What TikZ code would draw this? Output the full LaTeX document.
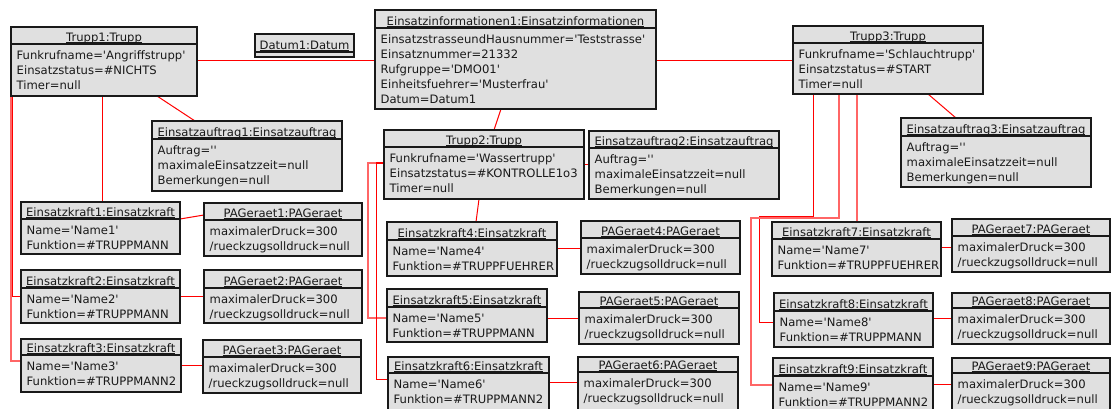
\documentclass[tikz,border=0pt]{standalone}
\usepackage{fontspec}
\newfontfamily\umlfont{DejaVu Sans}
\usetikzlibrary{calc}
\pgfdeclarelayer{background}
\pgfsetlayers{background,main}
\definecolor{boxfill}{HTML}{E0E0E0}
\newcommand\ulx[1]{\setbox0\hbox{#1}\rlap{\rule[-1.6pt]{\wd0}{0.8pt}}\box0}
\tikzset{
  objbox/.style={draw=black!90, fill=boxfill, line width=1.1pt, inner sep=0pt, outer sep=0pt, rectangle},
  objsep/.style={draw=black!90, line width=1.1pt},
  objtext/.style={font=\umlfont\fontsize{11.6}{15}\selectfont, inner sep=0pt, text=black!90},
  link/.style={draw=red, line width=1pt},
  linklight/.style={draw=red!60, line width=1.1pt},
}
% name, x1, y1, x2, y2, yh, title, attribute list
\newcommand\umlobj[8]{%
  \node[objbox, minimum width={#4-#2}, minimum height={#5-#3}] (#1) at ({(#2+#4)/2},{(#3+#5)/2}) {};
  \draw[objsep] (#2,#6) -- (#4,#6);
  \node[objtext, anchor=base] (#1-title) at ({(#2+#4)/2},#6-2.8) {\ulx{#7}};
  \foreach \l [count=\i from 0] in {#8} {
    \node[objtext, anchor=base west] at (#2+5.5,#6+15.5+15*\i) {\l};
  }%
}
\begin{document}
\begin{tikzpicture}[x=1pt,y=-1pt]
\useasboundingbox (0,0) rectangle (1111,409);
\umlobj{trupp1}{11}{27}{197}{96}{44}{Trupp1:Trupp}{Funkrufname='Angriffstrupp',Einsatzstatus=\#NICHTS,Timer=null}
\node[objbox, minimum width=99, minimum height=23] (datum1) at (304.5,45.5) {};
\draw[objsep] (255,52) -- (354,52);
\node[objtext, anchor=base] (datum1-title) at (304.5,49.2) {\ulx{Datum1:Datum}};
\umlobj{info}{375}{10}{656}{109}{28}{Einsatzinformationen1:Einsatzinformationen}{EinsatzstrasseundHausnummer='Teststrasse',Einsatznummer=21332,Rufgruppe='DMO01',Einheitsfuehrer='Musterfrau',Datum=Datum1}
\umlobj{auftrag1}{152}{121}{342}{191}{139}{Einsatzauftrag1:Einsatzauftrag}{Auftrag='',maximaleEinsatzzeit=null,Bemerkungen=null}
\umlobj{trupp2}{384}{130}{584}{199}{147}{Trupp2:Trupp}{Funkrufname='Wassertrupp',Einsatzstatus=\#KONTROLLE1o3,Timer=null}
\umlobj{auftrag2}{589}{131}{779}{199}{148}{Einsatzauftrag2:Einsatzauftrag}{Auftrag='',maximaleEinsatzzeit=null,Bemerkungen=null}
\umlobj{trupp3}{793}{26}{983}{94}{43}{Trupp3:Trupp}{Funkrufname='Schlauchtrupp',Einsatzstatus=\#START,Timer=null}
\umlobj{auftrag3}{901}{118}{1091}{187}{136}{Einsatzauftrag3:Einsatzauftrag}{Auftrag='',maximaleEinsatzzeit=null,Bemerkungen=null}
\umlobj{ek1}{21}{202}{180}{254}{219}{Einsatzkraft1:Einsatzkraft}{Name='Name1',Funktion=\#TRUPPMANN}
\umlobj{pa1}{204}{203}{362}{256}{220}{PAGeraet1:PAGeraet}{maximalerDruck=300,/rueckzugsolldruck=null}
\umlobj{ek2}{21}{270}{180}{323}{288}{Einsatzkraft2:Einsatzkraft}{Name='Name2',Funktion=\#TRUPPMANN}
\umlobj{pa2}{204}{270}{362}{323}{288}{PAGeraet2:PAGeraet}{maximalerDruck=300,/rueckzugsolldruck=null}
\umlobj{ek3}{21}{339}{181}{392}{355}{Einsatzkraft3:Einsatzkraft}{Name='Name3',Funktion=\#TRUPPMANN2}
\umlobj{pa3}{203}{340}{361}{393}{357}{PAGeraet3:PAGeraet}{maximalerDruck=300,/rueckzugsolldruck=null}
\umlobj{ek4}{387}{222}{557}{276}{240}{Einsatzkraft4:Einsatzkraft}{Name='Name4',Funktion=\#TRUPPFUEHRER}
\umlobj{pa4}{581}{221}{740}{274}{238}{PAGeraet4:PAGeraet}{maximalerDruck=300,/rueckzugsolldruck=null}
\umlobj{ek5}{387}{289}{547}{342}{307}{Einsatzkraft5:Einsatzkraft}{Name='Name5',Funktion=\#TRUPPMANN}
\umlobj{pa5}{579}{292}{739}{344}{308}{PAGeraet5:PAGeraet}{maximalerDruck=300,/rueckzugsolldruck=null}
\umlobj{ek6}{388}{357}{549}{410}{373}{Einsatzkraft6:Einsatzkraft}{Name='Name6',Funktion=\#TRUPPMANN2}
\umlobj{pa6}{578}{357}{738}{410}{372}{PAGeraet6:PAGeraet}{maximalerDruck=300,/rueckzugsolldruck=null}
\umlobj{ek7}{772}{222}{941}{276}{239}{Einsatzkraft7:Einsatzkraft}{Name='Name7',Funktion=\#TRUPPFUEHRER}
\umlobj{pa7}{952}{219}{1110}{272}{236}{PAGeraet7:PAGeraet}{maximalerDruck=300,/rueckzugsolldruck=null}
\umlobj{ek8}{774}{293}{933}{347}{311}{Einsatzkraft8:Einsatzkraft}{Name='Name8',Funktion=\#TRUPPMANN}
\umlobj{pa8}{952}{293}{1110}{344}{308}{PAGeraet8:PAGeraet}{maximalerDruck=300,/rueckzugsolldruck=null}
\umlobj{ek9}{773}{358}{933}{411}{376}{Einsatzkraft9:Einsatzkraft}{Name='Name9',Funktion=\#TRUPPMANN2}
\umlobj{pa9}{952}{358}{1110}{411}{373}{PAGeraet9:PAGeraet}{maximalerDruck=300,/rueckzugsolldruck=null}
% ---- connection points ----
\coordinate (t1e) at ($(trupp1.east)+(0,-0.5)$);
\coordinate (t3w) at ($(trupp3.west)+(0,1)$);
\coordinate (t1a) at ($(trupp1.south west)+(146,0)$);
\coordinate (a1t) at ($(auftrag1.north west)+(43,0)$);
\coordinate (inb) at ($(info.south west)+(126,0)$);
\coordinate (t2t) at ($(trupp2.north west)+(110,0)$);
\coordinate (t3a) at ($(trupp3.south west)+(135,0)$);
\coordinate (a3t) at ($(auftrag3.north west)+(55,0)$);
\coordinate (t1k1) at ($(trupp1.south west)+(91,0)$);
\coordinate (k1t) at ($(ek1.north west)+(81,0)$);
\coordinate (t1k2) at ($(trupp1.south west)+(1,0)$);
\coordinate (k3w) at ($(ek3.north west)+(0,22)$);
\coordinate (k1e) at ($(ek1.north east)+(0,17)$);
\coordinate (p1w) at ($(pa1.north west)+(0,12)$);
\coordinate (t2k4) at ($(trupp2.south west)+(95,0)$);
\coordinate (k4t) at ($(ek4.north west)+(89,0)$);
\coordinate (t2w) at ($(trupp2.west)+(0,-1.5)$);
\coordinate (k5w) at ($(ek5.south west)+(0,-24)$);
\coordinate (k6w) at ($(ek6.north west)+(0,22)$);
\coordinate (k4e) at ($(ek4.east)+(0,-1)$);
\coordinate (k6e) at ($(ek6.north east)+(0,25)$);
\coordinate (t3k7) at ($(trupp3.south west)+(64,0)$);
\coordinate (k7t) at ($(ek7.north west)+(85,0)$);
\coordinate (t3k8) at ($(trupp3.south west)+(20,0)$);
\coordinate (k8w) at ($(ek8.north west)+(0,29)$);
\coordinate (t3k9) at ($(trupp3.south west)+(46,0)$);
\coordinate (k9w) at ($(ek9.north west)+(0,27)$);
\coordinate (k7e) at ($(ek7.north east)+(0,25)$);
\coordinate (k9e) at ($(ek9.north east)+(0,26)$);
% ---- connectors (under the boxes) ----
\begin{pgfonlayer}{background}
\draw[link] (t1e) -- (t1e -| info.west);
\draw[link] (t3w) -- (t3w -| info.east);
\draw[link] (t1a) -- (a1t);
\draw[link] (inb) -- (t2t);
\draw[link] (trupp2.east) -- (trupp2.east -| auftrag2.west);
\draw[link] (t3a) -- (a3t);
% Trupp1 -> Einsatzkraft 1..3
\draw[link] (t1k1) -- (k1t);
\draw[link] (t1k2) |- (ek2.west);
\draw[linklight] (trupp1.south west) |- (k3w);
\draw[link] (k1e) -- (p1w);
\draw[link] (ek2.east) -- (ek2.east -| pa2.west);
\draw[link] (ek3.east) -- (ek3.east -| pa3.west);
% Trupp2 -> Einsatzkraft 4..6
\draw[link] (t2k4) -- (k4t);
\draw[linklight] (t2w) -- ++(-16,0) |- (k5w);
\draw[link] (t2w) -- ++(-8,0) |- (k6w);
\draw[link] (k4e) -- (k4e -| pa4.west);
\draw[link] (pa5.west -| ek5.east) -- (pa5.west);
\draw[link] (k6e) -- (k6e -| pa6.west);
% Trupp3 -> Einsatzkraft 7..9
\draw[linklight] (t3k7) -- (k7t);
\draw[link] (t3k8) -- ++(0,122) -- ++(-54,0) |- (k8w);
\draw[linklight] (t3k9) -- ++(0,124) -- ++(-88,0) |- (k9w);
\draw[link] (k7e) -- (k7e -| pa7.west);
\draw[link] (pa8.west -| ek8.east) -- (pa8.west);
\draw[link] (k9e) -- (k9e -| pa9.west);
\end{pgfonlayer}
\end{tikzpicture}
\end{document}
